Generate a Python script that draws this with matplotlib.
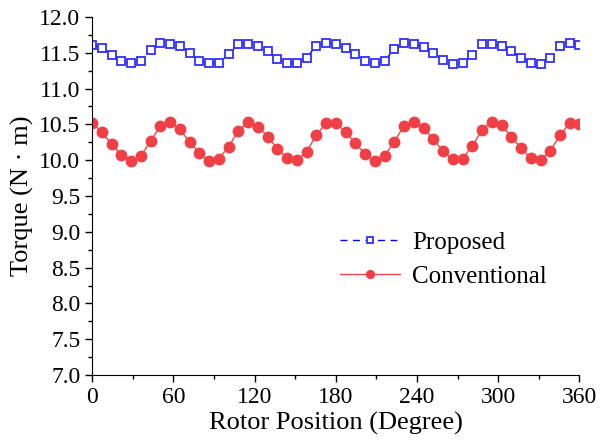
import numpy as np
import matplotlib
matplotlib.use('Agg')
import matplotlib.pyplot as plt
from matplotlib.ticker import MultipleLocator, FormatStrFormatter

plt.rcParams['font.family'] = ['Liberation Serif', 'DejaVu Serif']

# Rotor position, one sample every 7.2 degrees
position = np.linspace(0, 360, 51)

proposed = [11.61, 11.56, 11.47, 11.38, 11.35, 11.39, 11.54, 11.63, 11.62, 11.59,
            11.50, 11.39, 11.35, 11.36, 11.48, 11.62, 11.62, 11.60, 11.52, 11.41,
            11.35, 11.35, 11.43, 11.60, 11.63, 11.62, 11.57, 11.48, 11.38, 11.35,
            11.39, 11.55, 11.63, 11.62, 11.58, 11.50, 11.40, 11.34, 11.35, 11.47,
            11.62, 11.62, 11.60, 11.53, 11.43, 11.36, 11.34, 11.42, 11.60, 11.63,
            11.61]

conventional = [10.52, 10.39, 10.22, 10.07, 9.99, 10.06, 10.27, 10.48, 10.53, 10.43,
                10.25, 10.10, 9.99, 10.02, 10.19, 10.41, 10.53, 10.47, 10.33, 10.16,
                10.03, 10.00, 10.12, 10.35, 10.52, 10.52, 10.39, 10.24, 10.08, 9.99,
                10.06, 10.26, 10.48, 10.54, 10.45, 10.29, 10.13, 10.01, 10.02, 10.20,
                10.42, 10.54, 10.49, 10.33, 10.17, 10.03, 10.00, 10.13, 10.35, 10.52,
                10.51]

fig = plt.figure(figsize=(6.03, 4.45), dpi=100)
ax = fig.add_axes([0.153, 0.157, 0.808, 0.805])

ax.plot(position, proposed, linestyle='--', dashes=(5, 4), color='#0000ff',
        linewidth=1.0, marker='s', markersize=6, markerfacecolor='white',
        markeredgecolor='#3030ff', markeredgewidth=1.3, label='Proposed')
ax.plot(position, conventional, linestyle='-', color='#f04545', linewidth=1.0,
        marker='o', markersize=7.5, markerfacecolor='#f04045',
        markeredgecolor='#f04045', label='Conventional')

ax.set_xlim(0, 360)
ax.set_ylim(7.0, 12.0)
ax.xaxis.set_major_locator(MultipleLocator(60))
ax.xaxis.set_minor_locator(MultipleLocator(30))
ax.yaxis.set_major_locator(MultipleLocator(0.5))
ax.yaxis.set_minor_locator(MultipleLocator(0.25))
ax.yaxis.set_major_formatter(FormatStrFormatter('%.1f'))

ax.spines['top'].set_visible(False)
ax.spines['right'].set_visible(False)
ax.tick_params(which='major', direction='out', length=5, width=1, labelsize=17)
ax.tick_params(which='minor', direction='out', length=3, width=1)

ax.set_xlabel('Rotor Position (Degree)', fontsize=19, labelpad=3)
ax.set_ylabel('Torque (N · m)', fontsize=19, labelpad=4)

leg = ax.legend(loc='upper left', bbox_to_anchor=(0.462, 0.464), frameon=False,
                fontsize=18, handlelength=2.4, labelspacing=0.45,
                numpoints=1, markerscale=0.75, handletextpad=0.5)

fig.savefig('out.png', dpi=100)
